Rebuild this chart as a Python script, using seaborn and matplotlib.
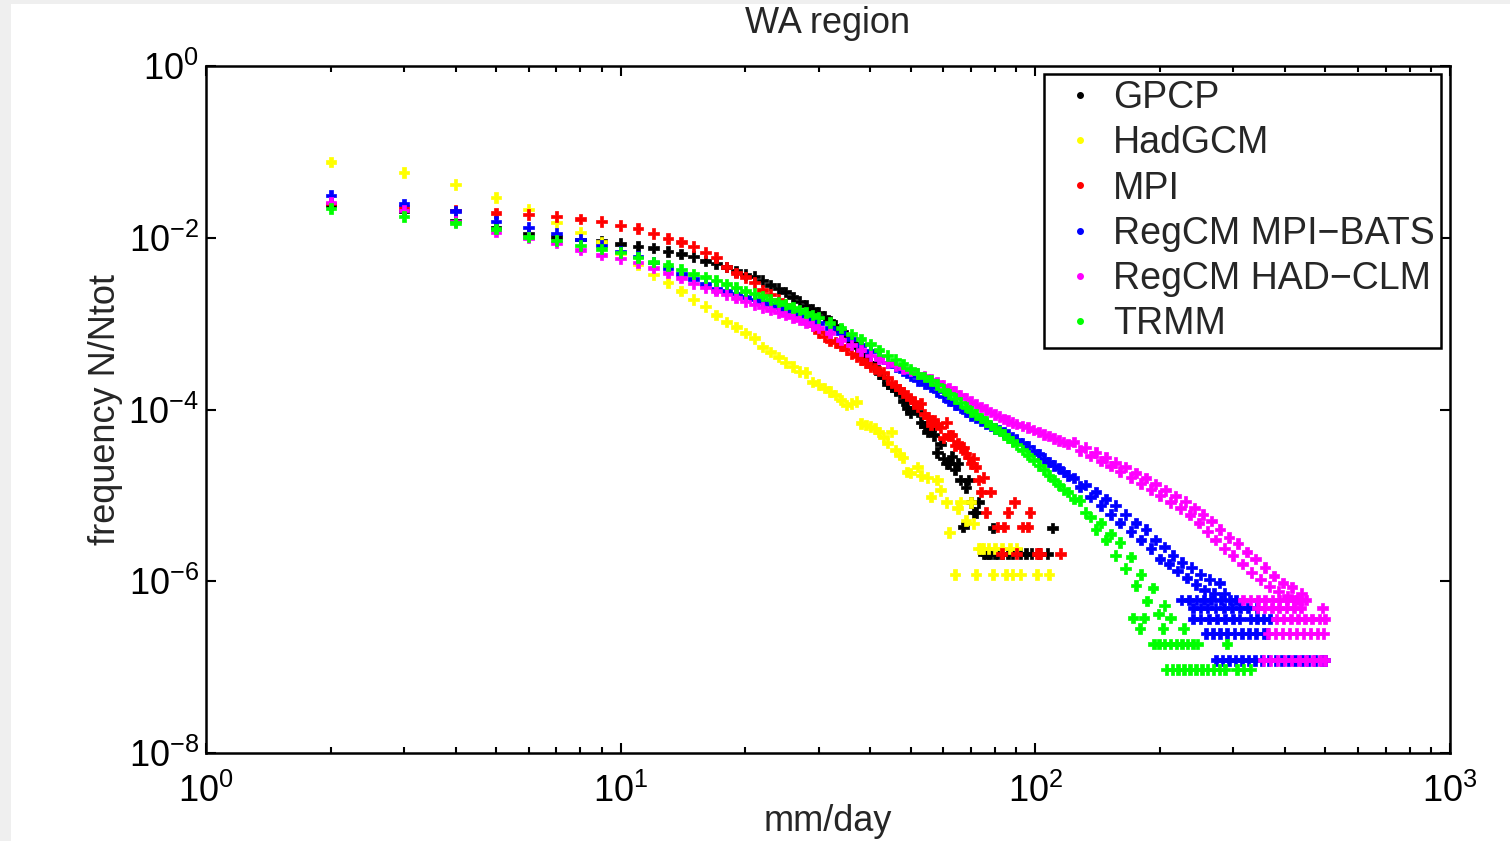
import numpy as np
import pandas as pd
import matplotlib
matplotlib.use("Agg")
import matplotlib.pyplot as plt
import seaborn as sns
from matplotlib.lines import Line2D
from matplotlib.patches import Rectangle
from matplotlib.ticker import LogLocator, NullLocator

# ---- data: x = mm/day bin, value = log10(N/Ntot) ----
series_names = ["GPCP", "HadGCM", "MPI", "RegCM MPI\u2212BATS", "RegCM HAD\u2212CLM", "TRMM"]
series_colors = ["#000000", "#ffff00", "#ff0000", "#0000ff", "#ff00ff", "#00ff00"]

gpcp_mm = list(range(2, 74)) + [75, 76, 77, 78, 79, 80, 81, 83, 86, 88, 92, 95, 98, 102, 107, 110]
gpcp_logf = [-1.62, -1.69, -1.80, -1.88, -1.95, -1.99, -2.02, -2.04, -2.07, -2.10,
             -2.12, -2.16, -2.19, -2.22, -2.27, -2.30, -2.34, -2.39, -2.43, -2.45,
             -2.50, -2.55, -2.59, -2.63, -2.69, -2.74, -2.79, -2.83, -2.87, -2.92,
             -2.97, -3.02, -3.08, -3.13, -3.20, -3.27, -3.36, -3.40, -3.46, -3.50,
             -3.58, -3.63, -3.70, -3.74, -3.78, -3.81, -3.90, -3.98, -4.04, -3.98,
             -4.03, -4.15, -4.20, -4.26, -4.23, -4.30, -4.50, -4.40, -4.57, -4.63,
             -4.63, -4.55, -4.70, -4.63, -4.82, -5.37, -4.91, -4.82, -5.08, -5.20,
             -5.20, -5.08,
             -5.68, -5.68, -5.68, -5.68, -5.38, -5.68, -5.68, -5.68, -5.68, -5.68,
             -5.68, -5.68, -5.68, -5.68, -5.68, -5.38]

hadgcm_mm = list(range(2, 51)) + [52, 53, 55, 56, 58, 59, 61, 62, 64, 65,
                                  66, 68, 70, 71, 72, 73, 74, 75, 77, 79,
                                  80, 83, 85, 87, 88, 90, 92, 101, 108]
hadgcm_logf = [-1.12, -1.24, -1.38, -1.53, -1.67, -1.82, -1.94, -2.05, -2.18, -2.31,
               -2.43, -2.52, -2.62, -2.72, -2.80, -2.90, -2.98, -3.04, -3.11, -3.17,
               -3.27, -3.33, -3.39, -3.45, -3.50, -3.56, -3.57, -3.68, -3.71, -3.75,
               -3.79, -3.83, -3.89, -3.95, -3.93, -3.91, -4.16, -4.18, -4.20, -4.22,
               -4.26, -4.32, -4.39, -4.26, -4.47, -4.53, -4.56, -4.73, -4.74,
               -4.67, -4.77, -4.79, -5.02, -4.82, -4.94, -5.08, -5.43, -5.92, -5.15,
               -5.08, -5.29, -5.08, -5.33, -5.92, -5.62, -5.62, -5.62, -5.62, -5.92,
               -5.62, -5.62, -5.92, -5.62, -5.92, -5.62, -5.92, -5.92, -5.92]

mpi_mm = list(range(2, 74)) + [74, 75, 76, 78, 81, 83, 84, 86, 89, 90, 93, 96, 97, 101, 103, 115]
mpi_logf = [-1.60, -1.64, -1.68, -1.71, -1.73, -1.75, -1.78, -1.81, -1.86, -1.89,
            -1.95, -2.01, -2.05, -2.10, -2.17, -2.23, -2.34, -2.41, -2.46, -2.52,
            -2.61, -2.66, -2.72, -2.78, -2.84, -2.90, -2.96, -3.02, -3.10, -3.15,
            -3.20, -3.22, -3.26, -3.30, -3.35, -3.38, -3.42, -3.46, -3.50, -3.52,
            -3.55, -3.57, -3.63, -3.69, -3.72, -3.76, -3.80, -3.83, -3.88, -3.91,
            -3.97, -3.93, -4.05, -4.09, -4.18, -4.12, -4.18, -4.21, -4.33, -4.15,
            -4.30, -4.30, -4.42, -4.39, -4.44, -4.44, -4.51, -4.56, -4.63, -4.57,
            -4.67, -4.82,
            -4.96, -4.79, -5.20, -4.96, -5.37, -5.68, -5.37, -5.20, -5.08, -5.68,
            -5.37, -5.37, -5.20, -5.68, -5.68, -5.68]

# bins from 2 to 30 are taken one by one, the shared mid grid after that
low_mm = list(range(2, 31))
mid_mm = [32, 34, 36, 38, 40, 42, 44, 46, 48, 50,
          52, 54, 56, 58, 60, 62, 64, 66, 68, 70,
          72, 74, 76, 78, 80, 82, 84, 86, 88, 90,
          93, 96, 99, 102, 105, 108, 111, 114, 117, 120]

bats_low = [-1.51, -1.61, -1.69, -1.81, -1.88, -1.95, -2.02, -2.09, -2.16, -2.22,
            -2.29, -2.35, -2.42, -2.48, -2.54, -2.59, -2.62, -2.65, -2.69, -2.72,
            -2.75, -2.78, -2.81, -2.84, -2.87, -2.90, -2.92, -2.95, -2.99]
bats_mid = [-3.05, -3.11, -3.18, -3.25, -3.32, -3.39, -3.45, -3.50, -3.55, -3.61,
            -3.66, -3.70, -3.74, -3.79, -3.85, -3.90, -3.94, -3.98, -4.03, -4.07,
            -4.10, -4.13, -4.16, -4.19, -4.22, -4.24, -4.27, -4.29, -4.32, -4.35,
            -4.39, -4.43, -4.48, -4.52, -4.57, -4.61, -4.65, -4.68, -4.73, -4.77]
bats_far_mm = [124, 128, 132, 136, 140, 144, 148, 152, 156, 160,
               165, 170, 175, 180, 185, 190, 195, 200, 205, 210,
               215, 220, 226, 232, 238, 244, 250, 256, 263, 270, 278, 286]
bats_far = [-4.80, -4.90, -4.88, -5.02, -4.96, -5.12, -5.04, -5.22, -5.12, -5.32,
            -5.22, -5.42, -5.32, -5.52, -5.40, -5.62, -5.52, -5.74, -5.60, -5.80,
            -5.70, -5.88, -5.78, -5.96, -5.84, -6.04, -5.92, -6.10, -5.98, -6.14,
            -6.02, -6.14]
bats_rows = {-6.22: [225, 235, 245, 255, 265, 280, 295, 305],
             -6.31: [240, 250, 260, 272, 285, 298, 312, 326, 342],
             -6.44: [240, 250, 262, 274, 287, 300, 311, 330, 342, 355, 368],
             -6.61: [258, 268, 279, 290, 302, 315, 328, 341, 355, 362],
             -6.92: [273, 283, 293, 304, 315, 327, 339, 352, 365, 379, 393,
                     408, 423, 439, 455, 472, 490, 500]}

clm_low = [-1.59, -1.68, -1.81, -1.93, -2.00, -2.06, -2.14, -2.20, -2.24, -2.29,
           -2.35, -2.41, -2.47, -2.53, -2.58, -2.62, -2.66, -2.70, -2.74, -2.78,
           -2.81, -2.84, -2.87, -2.90, -2.93, -2.96, -2.99, -3.02, -3.05]
clm_mid = [-3.11, -3.19, -3.25, -3.31, -3.37, -3.41, -3.45, -3.49, -3.52, -3.55,
           -3.58, -3.61, -3.65, -3.68, -3.72, -3.75, -3.79, -3.83, -3.87, -3.91,
           -3.94, -3.97, -4.00, -4.03, -4.06, -4.08, -4.11, -4.13, -4.15, -4.17,
           -4.19, -4.21, -4.24, -4.26, -4.29, -4.31, -4.34, -4.36, -4.38, -4.40]
clm_far_mm = [124, 128, 132, 136, 140, 144, 148, 152, 156, 160,
              165, 170, 175, 180, 185, 190, 195, 200, 206, 212,
              218, 224, 230, 236, 242, 248, 254, 260, 266, 272,
              279, 286, 293, 300, 308, 316, 324, 332, 340, 349,
              358, 367, 376, 386, 396, 406, 416, 427, 438, 450]
clm_far = [-4.38, -4.48, -4.44, -4.54, -4.50, -4.60, -4.56, -4.66, -4.62, -4.72,
           -4.67, -4.79, -4.74, -4.86, -4.80, -4.93, -4.87, -5.00, -4.94, -5.08,
           -5.01, -5.15, -5.07, -5.23, -5.15, -5.32, -5.22, -5.42, -5.30, -5.52,
           -5.40, -5.62, -5.49, -5.70, -5.56, -5.80, -5.66, -5.90, -5.74, -5.98,
           -5.84, -6.06, -5.94, -6.12, -6.02, -6.17, -6.07, -6.22, -6.14, -6.22]
clm_rows = {-6.22: [317, 330, 344, 358, 373, 388, 404, 420, 437],
            -6.31: [343, 357, 372, 387, 403, 420, 437, 492],
            -6.44: [382, 397, 413, 430, 447, 465, 484, 500],
            -6.61: [364, 379, 394, 410, 426, 443, 461, 479, 496],
            -6.92: [355, 369, 384, 399, 415, 432, 449, 467, 486, 500]}

trmm_low = [-1.66, -1.75, -1.83, -1.90, -1.99, -2.03, -2.09, -2.13, -2.17, -2.23,
            -2.28, -2.32, -2.37, -2.42, -2.46, -2.50, -2.54, -2.58, -2.62, -2.65,
            -2.68, -2.72, -2.75, -2.78, -2.81, -2.84, -2.87, -2.90, -2.93]
trmm_mid = [-2.99, -3.05, -3.12, -3.18, -3.24, -3.31, -3.37, -3.42, -3.47, -3.53,
            -3.58, -3.62, -3.66, -3.71, -3.77, -3.82, -3.87, -3.92, -3.97, -4.02,
            -4.06, -4.10, -4.14, -4.18, -4.22, -4.25, -4.29, -4.33, -4.37, -4.41,
            -4.47, -4.53, -4.59, -4.65, -4.70, -4.77, -4.82, -4.88, -4.93, -4.96]
trmm_far_mm = [124, 128, 132, 136, 140, 144, 148, 152, 156, 160,
               165, 170, 175, 180, 186, 192, 198, 205]
trmm_far = [-5.04, -5.06, -5.20, -5.25, -5.40, -5.32, -5.52, -5.45, -5.70, -5.55,
            -5.85, -5.72, -6.05, -5.92, -6.23, -6.08, -6.38, -6.28]
trmm_rows = {-6.43: [172, 183, 212],
             -6.55: [179, 203, 228],
             -6.73: [193, 199, 205, 212, 219, 226, 233, 240, 246, 290],
             -7.03: [207, 214, 221, 228, 236, 244, 252, 260, 269, 278, 287,
                     306, 318, 330]}


def build(name, xs, logs, rows=None):
    xs = list(xs)
    logs = list(logs)
    if rows:
        for lev, pts in rows.items():
            xs += pts
            logs += [lev] * len(pts)
    return pd.DataFrame({"mm": xs, "freq": np.power(10.0, logs), "series": name})


df = pd.concat([
    build(series_names[0], gpcp_mm, gpcp_logf),
    build(series_names[1], hadgcm_mm, hadgcm_logf),
    build(series_names[2], mpi_mm, mpi_logf),
    build(series_names[3], low_mm + mid_mm + bats_far_mm, bats_low + bats_mid + bats_far, bats_rows),
    build(series_names[4], low_mm + mid_mm + clm_far_mm, clm_low + clm_mid + clm_far, clm_rows),
    build(series_names[5], low_mm + mid_mm + trmm_far_mm, trmm_low + trmm_mid + trmm_far, trmm_rows),
], ignore_index=True)
colors = dict(zip(series_names, series_colors))

sns.set_style("ticks")
plt.rcParams["font.family"] = ["Liberation Sans", "DejaVu Sans"]
plt.rcParams["mathtext.fontset"] = "custom"
plt.rcParams["mathtext.rm"] = "Liberation Sans"
plt.rcParams["mathtext.it"] = "Liberation Sans:italic"
plt.rcParams["mathtext.bf"] = "Liberation Sans:bold"

fig = plt.figure(figsize=(15.1, 8.41), dpi=100)
fig.patch.set_facecolor("#efefef")
fig.patches.append(Rectangle((11 / 1510, 0), 1, 1 - 4 / 841, transform=fig.transFigure,
                             facecolor="white", edgecolor="none", zorder=-10))

ax = fig.add_axes([206 / 1510, 1 - 753 / 841, 1244 / 1510, 687 / 841])
sns.scatterplot(data=df, x="mm", y="freq", hue="series", hue_order=series_names,
                palette=colors, marker="P", s=58, edgecolor=df["series"].map(colors),
                linewidth=0.5, legend=False, ax=ax)

ax.set_xscale("log")
ax.set_yscale("log")
ax.set_xlim(1, 1000)
ax.set_ylim(1e-8, 1)
ax.set_yticks([1, 1e-2, 1e-4, 1e-6, 1e-8])
ax.yaxis.set_minor_locator(NullLocator())
ax.xaxis.set_major_locator(LogLocator(base=10, numticks=10))
ax.xaxis.set_minor_locator(LogLocator(base=10, subs=np.arange(2, 10), numticks=20))
ax.tick_params(which="both", direction="in", top=True, right=True, width=1.5,
               labelsize=26, color="black", labelcolor="black", pad=5)
ax.tick_params(axis="x", which="both", pad=15)
ax.tick_params(which="major", length=7)
ax.tick_params(which="minor", length=4.5)
for sp in ax.spines.values():
    sp.set_linewidth(1.8)
    sp.set_color("black")

ax.set_title("WA region", fontsize=26, pad=24)
ax.set_xlabel("mm/day", fontsize=26, labelpad=-4)
ax.set_ylabel("frequency N/Ntot", fontsize=26, labelpad=4)

handles = [Line2D([], [], marker=".", linestyle="none", color=c, markersize=8)
           for c in series_colors]
leg = ax.legend(handles, series_names, loc="upper right", bbox_to_anchor=(0.9928, 0.988),
                borderaxespad=0, fontsize=27, frameon=True, fancybox=False,
                framealpha=1, edgecolor="black", borderpad=0.16, handlelength=1.6,
                handletextpad=0.1, labelspacing=0.245)
leg.get_frame().set_linewidth(1.8)

fig.savefig("out.png", dpi=100, facecolor=fig.get_facecolor())
